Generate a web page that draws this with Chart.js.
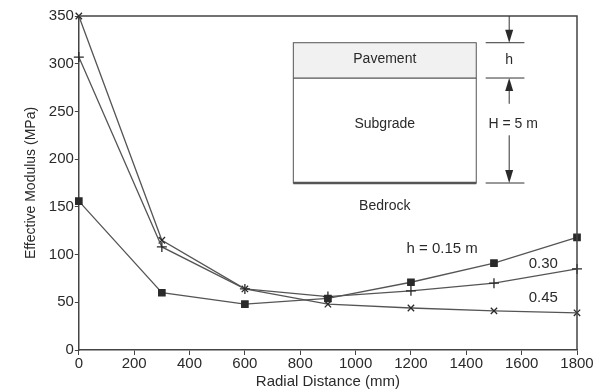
<!DOCTYPE html>
<html>
<head>
<meta charset="utf-8">
<script src="https://cdn.jsdelivr.net/npm/chart.js@4"></script>
<style>
  body { margin: 0; background: #fff; }
  #wrap { width: 608px; height: 391px; }
</style>
</head>
<body>
<div id="wrap"><canvas id="modulusChart" width="608" height="391"></canvas></div>
<script>
// radial distance (mm) of each sensor
const radialDistance = [0, 300, 600, 900, 1200, 1500, 1800];

// effective modulus (MPa) for each pavement thickness
const modulusH015 = [156, 60, 48, 54, 71, 91, 118];
const modulusH030 = [307, 108, 64, 56, 62, 70, 85];
const modulusH045 = [350, 115, 64, 48, 44, 41, 39];

const seriesLabels = ["h = 0.15 m", "0.30", "0.45"];
const xTicks = [0, 200, 400, 600, 800, 1000, 1200, 1400, 1600, 1800];
const yTicks = [0, 50, 100, 150, 200, 250, 300, 350];

const ink = "#2a2a2a";
const lineGray = "#555";
const font = "'Liberation Sans', Arial, sans-serif";

function toPoints(values) {
  return radialDistance.map((x, i) => ({ x: x, y: values[i] }));
}

// frame on top/right plus the layer diagram and curve labels
const decorations = {
  id: "decorations",
  afterDraw(chart) {
    const ctx = chart.ctx;
    const area = chart.chartArea;
    const xs = chart.scales.x;
    const ys = chart.scales.y;
    const px = (v) => xs.getPixelForValue(v);
    const py = (v) => ys.getPixelForValue(v);

    ctx.save();
    ctx.strokeStyle = "#444";
    ctx.lineWidth = 1.5;
    ctx.beginPath();
    ctx.moveTo(area.left, area.top);
    ctx.lineTo(area.right, area.top);
    ctx.lineTo(area.right, area.bottom);
    ctx.stroke();

    // layer diagram
    const bx0 = px(775), bx1 = px(1436);
    const top = py(322), mid = py(285), bot = py(175);
    ctx.fillStyle = "#f1f1f1";
    ctx.fillRect(bx0, top, bx1 - bx0, mid - top);
    ctx.strokeStyle = "#555";
    ctx.lineWidth = 1;
    ctx.strokeRect(bx0, top, bx1 - bx0, bot - top);
    ctx.lineWidth = 1.2;
    ctx.beginPath();
    ctx.moveTo(bx0, mid);
    ctx.lineTo(bx1, mid);
    ctx.stroke();
    ctx.lineWidth = 2.5;
    ctx.beginPath();
    ctx.moveTo(bx0, bot);
    ctx.lineTo(bx1, bot);
    ctx.stroke();

    // dimension lines
    const ax = px(1555);
    const t0 = px(1470), t1 = px(1610);
    ctx.lineWidth = 1;
    ctx.strokeStyle = "#333";
    [top, mid, bot].forEach((y) => {
      ctx.beginPath();
      ctx.moveTo(t0, y);
      ctx.lineTo(t1, y);
      ctx.stroke();
    });
    function arrow(yFrom, yTip) {
      const dir = yTip > yFrom ? 1 : -1;
      ctx.beginPath();
      ctx.moveTo(ax, yFrom);
      ctx.lineTo(ax, yTip - dir * 12);
      ctx.stroke();
      ctx.fillStyle = ink;
      ctx.beginPath();
      ctx.moveTo(ax, yTip);
      ctx.lineTo(ax - 4, yTip - dir * 13);
      ctx.lineTo(ax + 4, yTip - dir * 13);
      ctx.closePath();
      ctx.fill();
    }
    arrow(area.top, top);
    arrow(py(258), mid);
    arrow(py(225), bot);

    ctx.fillStyle = ink;
    ctx.font = "14px " + font;
    ctx.textAlign = "center";
    ctx.textBaseline = "middle";
    ctx.fillText("Pavement", (bx0 + bx1) / 2, (top + mid) / 2 - 1);
    ctx.fillText("Subgrade", (bx0 + bx1) / 2, py(237));
    ctx.fillText("Bedrock", (bx0 + bx1) / 2, py(151));
    ctx.fillText("h", ax, (top + mid) / 2);
    ctx.fillText("H = 5 m", ax + 4, py(237));

    // curve labels
    ctx.font = "15px " + font;
    ctx.fillText(seriesLabels[0], px(1313), py(106));
    ctx.fillText(seriesLabels[1], px(1678), py(90));
    ctx.fillText(seriesLabels[2], px(1678), py(55));
    ctx.restore();
  }
};

const dataset = (label, values, style, radius) => ({
  label: label,
  data: toPoints(values),
  borderColor: lineGray,
  borderWidth: 1.3,
  pointStyle: style,
  pointRadius: radius,
  pointBorderColor: ink,
  pointBackgroundColor: ink,
  pointBorderWidth: 1.3,
  tension: 0,
  clip: false
});

new Chart(document.getElementById("modulusChart"), {
  type: "line",
  data: {
    datasets: [
      dataset(seriesLabels[0], modulusH015, "rect", 4.5),
      dataset(seriesLabels[1], modulusH030, "cross", 5),
      dataset(seriesLabels[2], modulusH045, "crossRot", 4.5)
    ]
  },
  options: {
    responsive: false,
    animation: false,
    layout: { padding: { top: 16, right: 31, bottom: 0, left: 23 } },
    plugins: { legend: { display: false }, tooltip: { enabled: false } },
    scales: {
      x: {
        type: "linear",
        min: 0,
        max: 1800,
        afterBuildTicks: (axis) => { axis.ticks = xTicks.map((v) => ({ value: v })); },
        grid: { drawOnChartArea: false, tickLength: 5, color: "#444" },
        border: { color: "#444", width: 1.5 },
        ticks: { color: ink, font: { family: font, size: 15 }, padding: 0, maxRotation: 0, callback: (v) => String(v) },
        title: { display: true, text: "Radial Distance (mm)", color: ink, font: { family: font, size: 15 }, padding: { top: 0, bottom: 0 } }
      },
      y: {
        min: 0,
        max: 350,
        afterBuildTicks: (axis) => { axis.ticks = yTicks.map((v) => ({ value: v })); },
        grid: { drawOnChartArea: false, tickLength: 4, color: "#444" },
        border: { color: "#444", width: 1.5 },
        ticks: { color: ink, font: { family: font, size: 15 }, padding: 1, callback: (v) => String(v) },
        title: { display: true, text: "Effective Modulus (MPa)", color: ink, font: { family: font, size: 14 }, padding: { top: 0, bottom: 8 } }
      }
    }
  },
  plugins: [decorations]
});
</script>
</body>
</html>
